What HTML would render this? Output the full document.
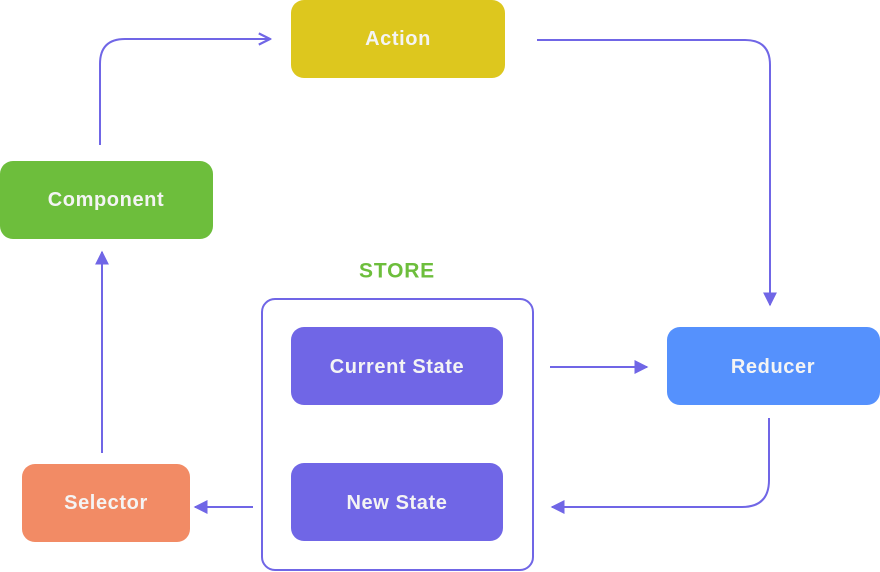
<!DOCTYPE html>
<html><head><style>
body{margin:0;background:#fff;width:880px;height:572px;overflow:hidden}
svg{display:block}
text{font-family:"Liberation Sans",sans-serif;font-weight:bold;font-size:20px;letter-spacing:0.6px;fill:#f4f4f4;text-anchor:middle;dominant-baseline:central}
</style></head><body>
<svg width="880" height="572" viewBox="0 0 880 572">
<defs>
<marker id="tri" viewBox="0 0 10 10" refX="9" refY="5" markerWidth="14" markerHeight="14" markerUnits="userSpaceOnUse" orient="auto"><path d="M0,0 L10,5 L0,10 z" fill="#7066E6"/></marker>
<marker id="chev" viewBox="0 0 10 10" refX="9" refY="5" markerWidth="14" markerHeight="14" markerUnits="userSpaceOnUse" orient="auto"><path d="M1,1 L9,5 L1,9" fill="none" stroke="#7066E6" stroke-width="1.6"/></marker>
</defs>
<g fill="none" stroke="#7066E6" stroke-width="2">
<path d="M100,145 V64 Q100,39 125,39 H270" marker-end="url(#chev)"/>
<path d="M537,40 H745 Q770,40 770,65 V305" marker-end="url(#tri)"/>
<path d="M769,418 V480 Q769,507 742,507 H552" marker-end="url(#tri)"/>
<path d="M550,367 H647" marker-end="url(#tri)"/>
<path d="M253,507 H195" marker-end="url(#tri)"/>
<path d="M102,453 V252" marker-end="url(#tri)"/>
<rect x="262" y="299" width="271" height="271" rx="13"/>
</g>
<rect x="291" y="0" width="214" height="78" rx="13" fill="#DDC71E"/>
<text x="398" y="39">Action</text>
<rect x="0" y="161" width="213" height="78" rx="13" fill="#6DBE3C"/>
<text x="106" y="200">Component</text>
<rect x="667" y="327" width="213" height="78" rx="13" fill="#5591FD"/>
<text x="773" y="367">Reducer</text>
<rect x="291" y="327" width="212" height="78" rx="13" fill="#7066E6"/>
<text x="397" y="367">Current State</text>
<rect x="291" y="463" width="212" height="78" rx="13" fill="#7066E6"/>
<text x="397" y="503">New State</text>
<rect x="22" y="464" width="168" height="78" rx="13" fill="#F28B65"/>
<text x="106" y="503">Selector</text>
<text x="397" y="271" style="fill:#6DBE3C;font-size:21px;letter-spacing:0.8px">STORE</text>
</svg>
</body></html>
